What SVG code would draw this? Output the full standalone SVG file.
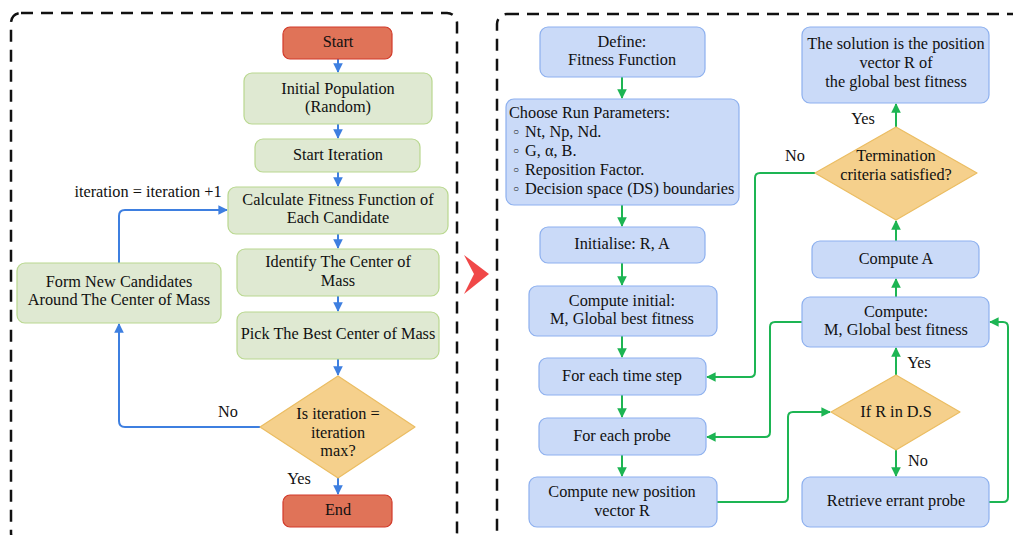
<svg xmlns="http://www.w3.org/2000/svg" width="1013" height="535" viewBox="0 0 1013 535" font-family="'Liberation Serif', 'DejaVu Serif', serif">
<defs>
<style>
text{font-family:'Liberation Serif','DejaVu Serif',serif;font-size:16.3px;fill:#111;text-anchor:middle;dominant-baseline:middle}
.lt{text-anchor:start}
.bul{font-size:10px}
.frame{fill:none;stroke:#111;stroke-width:2.5;stroke-dasharray:12 8}
.term{fill:#e07358;stroke:#d23a2a;stroke-width:1.2}
.gn{fill:#dfe9d2;stroke:#b9d88f;stroke-width:1.2}
.bn{fill:#cadaf8;stroke:#8db0ef;stroke-width:1.2}
.dm{fill:#f5d08c;stroke:#ebbd62;stroke-width:1.2;stroke-linejoin:round}
.cb{fill:none;stroke:#3e7fe0;stroke-width:2;marker-end:url(#ab)}
.cg{fill:none;stroke:#1db553;stroke-width:2;marker-end:url(#ag)}
</style>
<marker id="ab" viewBox="0 0 10 10" refX="9" refY="5" markerWidth="4.8" markerHeight="4.8" orient="auto"><path d="M0,0 L10,5 L0,10 z" fill="#3e7fe0"/></marker>
<marker id="ag" viewBox="0 0 10 10" refX="9" refY="5" markerWidth="4.8" markerHeight="4.8" orient="auto"><path d="M0,0 L10,5 L0,10 z" fill="#1db553"/></marker>
</defs>
<rect width="1013" height="535" fill="#fff"/>
<rect class="frame" x="11" y="13" width="446" height="530" rx="10"/>
<rect class="frame" x="497" y="14" width="530" height="530" rx="10"/>
<path d="M464,255 L489,274 L464,294 L474,274 z" fill="#f04848"/>

<g id="connectors">
<path class="cb" d="M338,59 V72"/>
<path class="cb" d="M338,124 V138"/>
<path class="cb" d="M338,172 V186"/>
<path class="cb" d="M338,234 V248"/>
<path class="cb" d="M338,296 V311"/>
<path class="cb" d="M338,359 V375"/>
<path class="cb" d="M338,478 V494"/>
<path class="cb" d="M260,427 H125 Q119,427 119,421 V324"/>
<path class="cb" d="M119,263 V216 Q119,210 125,210 H227"/>
<path class="cg" d="M622,77 V98"/>
<path class="cg" d="M622,205 V226"/>
<path class="cg" d="M622,263 V285"/>
<path class="cg" d="M622,336 V357"/>
<path class="cg" d="M622,395 V417"/>
<path class="cg" d="M622,455 V476"/>
<path class="cg" d="M896,241 V221"/>
<path class="cg" d="M896,127 V104"/>
<path class="cg" d="M896,297 V279"/>
<path class="cg" d="M896,375 V348"/>
<path class="cg" d="M896,450 V476"/>
<path class="cg" d="M815,173 H760 Q755,173 755,178 V372 Q755,377 750,377 H707"/>
<path class="cg" d="M802,322 H775 Q770,322 770,327 V432 Q770,437 765,437 H707"/>
<path class="cg" d="M717,502 H783 Q788,502 788,497 V417 Q788,412 793,412 H830"/>
<path class="cg" d="M989,502 H1003 Q1008,502 1008,497 V327 Q1008,322 1003,322 H990"/>
</g>

<g id="start"><rect class="term" x="283" y="27" width="109" height="32" rx="7"/><text x="338" y="43">Start</text></g>
<g id="initpop"><rect class="gn" x="244" y="73" width="188" height="51" rx="8"/><text x="338" y="90">Initial Population</text><text x="338" y="108">(Random)</text></g>
<g id="startiter"><rect class="gn" x="255" y="139" width="165" height="33" rx="8"/><text x="338" y="156">Start Iteration</text></g>
<g id="calcfit"><rect class="gn" x="228" y="187" width="220" height="47" rx="8"/><text x="338" y="201">Calculate Fitness Function of</text><text x="338" y="219">Each Candidate</text></g>
<g id="identify"><rect class="gn" x="237" y="249" width="202" height="47" rx="8"/><text x="338" y="263">Identify The Center of</text><text x="338" y="282">Mass</text></g>
<g id="pick"><rect class="gn" x="237" y="312" width="202" height="47" rx="8"/><text x="338" y="335">Pick The Best Center of Mass</text></g>
<g id="isiter"><path class="dm" d="M338,376 L415,427 L338,478 L260,427 z"/><text x="338" y="415">Is iteration =</text><text x="338" y="434">iteration</text><text x="338" y="452">max?</text></g>
<g id="end"><rect class="term" x="283" y="495" width="109" height="32" rx="7"/><text x="338" y="511">End</text></g>
<g id="formnew"><rect class="gn" x="17" y="263" width="204" height="60" rx="8"/><text x="119" y="283">Form New Candidates</text><text x="119" y="301">Around The Center of Mass</text></g>
<text x="148" y="193">iteration = iteration +1</text>
<text x="228" y="413">No</text>
<text x="299" y="480">Yes</text>

<g id="define"><rect class="bn" x="540" y="27" width="165" height="50" rx="8"/><text x="622" y="43">Define:</text><text x="622" y="61">Fitness Function</text></g>
<g id="params"><rect class="bn" x="506" y="99" width="233" height="106" rx="8"/>
<text class="lt" x="509" y="114">Choose Run Parameters:</text>
<text class="lt bul" x="513" y="133">○</text><text class="lt" x="525" y="133">Nt, Np, Nd.</text>
<text class="lt bul" x="513" y="152">○</text><text class="lt" x="525" y="152">G, α, B.</text>
<text class="lt bul" x="513" y="171">○</text><text class="lt" x="525" y="171">Reposition Factor.</text>
<text class="lt bul" x="513" y="190">○</text><text class="lt" x="525" y="190">Decision space (DS) boundaries</text></g>
<g id="initialise"><rect class="bn" x="540" y="227" width="165" height="36" rx="8"/><text x="622" y="245">Initialise: R, A</text></g>
<g id="computeinit"><rect class="bn" x="529" y="286" width="188" height="50" rx="8"/><text x="622" y="302">Compute initial:</text><text x="622" y="320">M, Global best fitness</text></g>
<g id="timestep"><rect class="bn" x="539" y="358" width="167" height="37" rx="8"/><text x="622" y="377">For each time step</text></g>
<g id="probe"><rect class="bn" x="539" y="418" width="167" height="37" rx="8"/><text x="622" y="437">For each probe</text></g>
<g id="newpos"><rect class="bn" x="529" y="477" width="188" height="50" rx="8"/><text x="622" y="493">Compute new position</text><text x="622" y="512">vector R</text></g>
<g id="solution"><rect class="bn" x="802" y="27" width="187" height="76" rx="8"/><text x="896" y="45">The solution is the position</text><text x="896" y="64">vector R of</text><text x="896" y="83">the global best fitness</text></g>
<g id="termination"><path class="dm" d="M896,127 L977,173 L896,220 L815,173 z"/><text x="896" y="157">Termination</text><text x="896" y="176">criteria satisfied?</text></g>
<g id="computeA"><rect class="bn" x="812" y="241" width="167" height="37" rx="8"/><text x="896" y="260">Compute A</text></g>
<g id="computeM"><rect class="bn" x="802" y="297" width="187" height="50" rx="8"/><text x="896" y="313">Compute:</text><text x="896" y="331">M, Global best fitness</text></g>
<g id="ifR"><path class="dm" d="M896,375 L960,412 L896,450 L831,412 z"/><text x="896" y="413">If R in D.S</text></g>
<g id="retrieve"><rect class="bn" x="802" y="477" width="187" height="50" rx="8"/><text x="896" y="502">Retrieve errant probe</text></g>
<text x="863" y="120">Yes</text>
<text x="795" y="157">No</text>
<text x="919" y="364">Yes</text>
<text x="918" y="462">No</text>
</svg>
